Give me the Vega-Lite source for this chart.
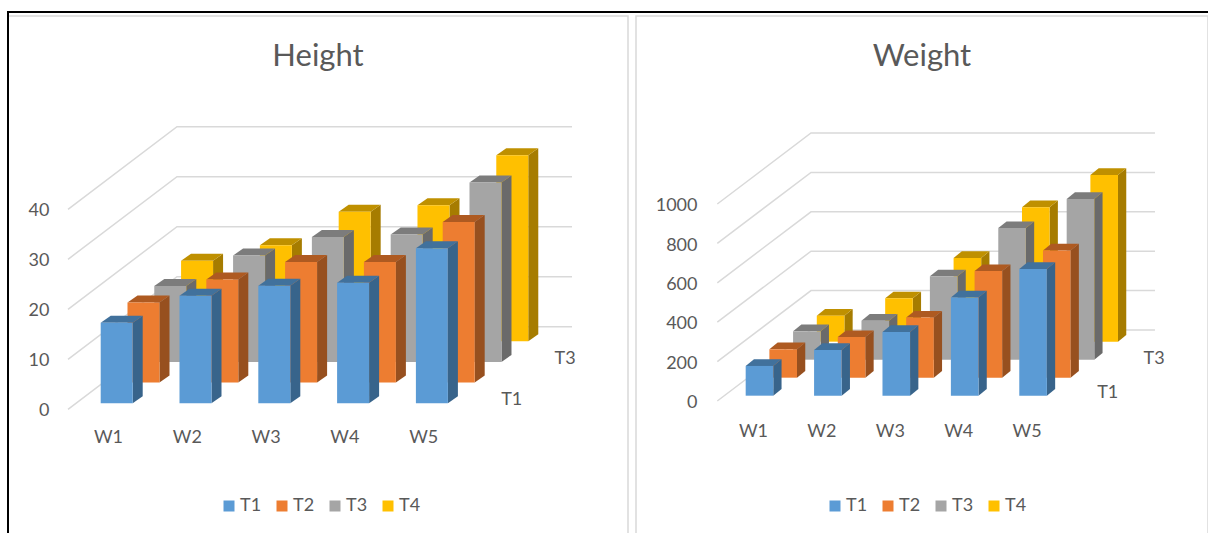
{"$schema":"https://vega.github.io/schema/vega-lite/v6.json","padding":{"left":5,"top":10,"right":0,"bottom":0},"spacing":8,"bounds":"flush","config":{"view":{"stroke":"#d9d9d9","strokeWidth":1.5},"font":"Lato","axis":{"grid":false,"domain":false,"ticks":false,"labelColor":"#595959","labelFontSize":18,"labelFont":"Lato","title":null,"labelPadding":0},"legend":{"labelColor":"#595959","labelFontSize":18,"labelFont":"Lato","symbolType":"square","symbolSize":121,"symbolStrokeWidth":0,"labelOffset":2,"columnPadding":11,"title":null},"title":{"font":"Lato","fontSize":31,"color":"#595959","fontWeight":"normal"}},
"hconcat":[
{"width":620,"height":519,"title":{"text":"Height","offset":-62,"anchor":"middle"},
"layer":[
{"data":{"values":[{"v":0},{"v":10},{"v":20},{"v":30},{"v":40}]},
"transform":[{"calculate":"[{x:-0.5076,y:datum.v-1.2},{x:0.8756,y:datum.v+15.32},{x:5.888,y:datum.v+15.32}]","as":"p"},{"flatten":["p"]},{"calculate":"datum.p.x","as":"gx"},{"calculate":"datum.p.y","as":"gy"}],
"mark":{"type":"line","color":"#d9d9d9","strokeWidth":1.5},
"encoding":{"x":{"field":"gx","type":"quantitative","scale":{"domain":[-1.269,6.599],"nice":false,"zero":false},"axis":{"values":[0,1,2,3,4],"labelExpr":"'W'+(datum.value+1)","labelBaseline":"middle","offset":-98}},
"y":{"field":"gy","type":"quantitative","scale":{"domain":[-26.34,77.46],"nice":false,"zero":false},"axis":{"values":[0,10,20,30,40],"offset":-41,"labelOffset":7}},
"detail":{"field":"v"}}},
{"data":{"values":[
{"week":"W1","series":"T4","value":16.1},{"week":"W2","series":"T4","value":19.2},{"week":"W3","series":"T4","value":25.9},{"week":"W4","series":"T4","value":27.2},{"week":"W5","series":"T4","value":37.2},
{"week":"W1","series":"T3","value":15.2},{"week":"W2","series":"T3","value":21.3},{"week":"W3","series":"T3","value":25},{"week":"W4","series":"T3","value":25.5},{"week":"W5","series":"T3","value":35.9},
{"week":"W1","series":"T2","value":16},{"week":"W2","series":"T2","value":20.6},{"week":"W3","series":"T2","value":24.1},{"week":"W4","series":"T2","value":24.1},{"week":"W5","series":"T2","value":32.1},
{"week":"W1","series":"T1","value":16.1},{"week":"W2","series":"T1","value":21.5},{"week":"W3","series":"T1","value":23.5},{"week":"W4","series":"T1","value":24.1},{"week":"W5","series":"T1","value":31}]},
"transform":[
{"calculate":"indexof(['W1','W2','W3','W4','W5'],datum.week)","as":"w"},
{"calculate":"indexof(['T1','T2','T3','T4'],datum.series)","as":"s"},
{"calculate":"-0.0926+datum.w+datum.s*0.34","as":"xl"},
{"calculate":"datum.xl+0.406","as":"xr"},
{"calculate":"datum.s*4.14","as":"lo"},
{"calculate":"datum.lo+datum.value","as":"hi"},
{"calculate":"[{f:'side',x:datum.xr,a:datum.lo,b:datum.hi},{f:'side',x:datum.xr+0.127,a:datum.lo+1.4,b:datum.hi+1.4},{f:'top',x:datum.xl,a:datum.hi,b:datum.hi},{f:'top',x:datum.xl+0.127,a:datum.hi,b:datum.hi+1.4},{f:'top',x:datum.xr,a:datum.hi,b:datum.hi+1.4},{f:'top',x:datum.xr+0.127,a:datum.hi+1.4,b:datum.hi+1.4},{f:'front',x:datum.xl,a:datum.lo,b:datum.hi},{f:'front',x:datum.xr,a:datum.lo,b:datum.hi}]","as":"p"},
{"flatten":["p"]},
{"calculate":"datum.p.x","as":"px"},{"calculate":"datum.p.a","as":"pa"},{"calculate":"datum.p.b","as":"pb"},
{"calculate":"datum.series+' '+datum.week+' '+datum.p.f","as":"face"},
{"calculate":"datum.p.f=='front'?datum.series:datum.series+' '+datum.p.f","as":"tone"}],
"mark":{"type":"area","interpolate":"linear"},
"encoding":{"x":{"field":"px","type":"quantitative","scale":{"domain":[-1.269,6.599],"nice":false,"zero":false},"axis":{"values":[0,1,2,3,4],"labelExpr":"'W'+(datum.value+1)","labelBaseline":"middle","offset":-98}},
"y":{"field":"pa","type":"quantitative","stack":null,"scale":{"domain":[-26.34,77.46],"nice":false,"zero":false},"axis":{"values":[0,10,20,30,40],"offset":-41,"labelOffset":7}},
"y2":{"field":"pb"},
"detail":{"field":"face"},
"color":{"field":"tone","type":"nominal","scale":{"domain":["T1","T2","T3","T4","T1 side","T2 side","T3 side","T4 side","T1 top","T2 top","T3 top","T4 top"],"range":["#5B9BD5","#ED7D31","#A5A5A5","#FFC000","#38648B","#97501F","#6A6A6A","#A67C00","#41719C","#AE5A21","#7C7C7C","#BF9000"]},"legend":{"values":["T1","T2","T3","T4"],"orient":"none","legendX":212,"legendY":481,"direction":"horizontal","columns":4}}}},
{"data":{"values":[{"series":"T1","s":0},{"series":"T3","s":2}]},
"transform":[{"calculate":"5.123+datum.s*0.3385","as":"lx"},{"calculate":"0.66+datum.s*4.1","as":"ly"}],
"mark":{"type":"text","font":"Lato","fontSize":18,"color":"#595959","align":"center","baseline":"middle"},
"encoding":{"x":{"field":"lx","type":"quantitative","scale":{"domain":[-1.269,6.599],"nice":false,"zero":false},"axis":{"values":[0,1,2,3,4],"labelExpr":"'W'+(datum.value+1)","labelBaseline":"middle","offset":-98}},"y":{"field":"ly","type":"quantitative","scale":{"domain":[-26.34,77.46],"nice":false,"zero":false},"axis":{"values":[0,10,20,30,40],"offset":-41,"labelOffset":7}},"text":{"field":"series"}}},
{"data":{"values":[{"edge":"top"}]},"mark":{"type":"rule","color":"#000000","strokeWidth":2},
"encoding":{"x":{"datum":-1.2817,"type":"quantitative","scale":{"domain":[-1.269,6.599],"nice":false,"zero":false},"axis":{"values":[0,1,2,3,4],"labelExpr":"'W'+(datum.value+1)","labelBaseline":"middle","offset":-98}},"x2":{"datum":13.96},"y":{"datum":78.26,"type":"quantitative","scale":{"domain":[-26.34,77.46],"nice":false,"zero":false},"axis":{"values":[0,10,20,30,40],"offset":-41,"labelOffset":7}}}},
{"data":{"values":[{"edge":"left"}]},"mark":{"type":"rule","color":"#000000","strokeWidth":2},
"encoding":{"x":{"datum":-1.269,"type":"quantitative","scale":{"domain":[-1.269,6.599],"nice":false,"zero":false},"axis":{"values":[0,1,2,3,4],"labelExpr":"'W'+(datum.value+1)","labelBaseline":"middle","offset":-98}},"y":{"datum":78.26,"type":"quantitative","scale":{"domain":[-26.34,77.46],"nice":false,"zero":false},"axis":{"values":[0,10,20,30,40],"offset":-41,"labelOffset":7}},"y2":{"datum":-26.34}}}
]},
{"width":572,"height":519,"title":{"text":"Weight","offset":-57,"anchor":"middle"},
"layer":[
{"data":{"values":[{"v":0},{"v":200},{"v":400},{"v":600},{"v":800},{"v":1000}]},
"transform":[{"calculate":"[{x:-0.522,y:datum.v-26.9},{x:0.848,y:datum.v+333.5},{x:5.877,y:datum.v+333.5}]","as":"p"},{"flatten":["p"]},{"calculate":"datum.p.x","as":"gx"},{"calculate":"datum.p.y","as":"gy"}],
"mark":{"type":"line","color":"#d9d9d9","strokeWidth":1.5},
"encoding":{"x":{"field":"gx","type":"quantitative","scale":{"domain":[-1.7105,6.652],"nice":false,"zero":false},"axis":{"values":[0,1,2,3,4],"labelExpr":"'W'+(datum.value+1)","labelBaseline":"middle","offset":-104}},
"y":{"field":"gy","type":"quantitative","scale":{"domain":[-707.2,1927.4],"nice":false,"zero":false},"axis":{"values":[0,200,400,600,800,1000],"format":"d","offset":-61,"labelOffset":7}},
"detail":{"field":"v"}}},
{"data":{"values":[
{"week":"W1","series":"T4","value":132},{"week":"W2","series":"T4","value":220},{"week":"W3","series":"T4","value":425},{"week":"W4","series":"T4","value":682},{"week":"W5","series":"T4","value":846},
{"week":"W1","series":"T3","value":144},{"week":"W2","series":"T3","value":198},{"week":"W3","series":"T3","value":423},{"week":"W4","series":"T3","value":668},{"week":"W5","series":"T3","value":816},
{"week":"W1","series":"T2","value":144},{"week":"W2","series":"T2","value":206},{"week":"W3","series":"T2","value":305},{"week":"W4","series":"T2","value":541},{"week":"W5","series":"T2","value":646},
{"week":"W1","series":"T1","value":151},{"week":"W2","series":"T1","value":232},{"week":"W3","series":"T1","value":323},{"week":"W4","series":"T1","value":499},{"week":"W5","series":"T1","value":643}]},
"transform":[
{"calculate":"indexof(['W1','W2','W3','W4','W5'],datum.week)","as":"w"},
{"calculate":"indexof(['T1','T2','T3','T4'],datum.series)","as":"s"},
{"calculate":"-0.107+datum.w+datum.s*0.3465","as":"xl"},
{"calculate":"datum.xl+0.4035","as":"xr"},
{"calculate":"datum.s*91.4","as":"lo"},
{"calculate":"datum.lo+datum.value","as":"hi"},
{"calculate":"[{f:'side',x:datum.xr,a:datum.lo,b:datum.hi},{f:'side',x:datum.xr+0.121,a:datum.lo+34,b:datum.hi+34},{f:'top',x:datum.xl,a:datum.hi,b:datum.hi},{f:'top',x:datum.xl+0.121,a:datum.hi,b:datum.hi+34},{f:'top',x:datum.xr,a:datum.hi,b:datum.hi+34},{f:'top',x:datum.xr+0.121,a:datum.hi+34,b:datum.hi+34},{f:'front',x:datum.xl,a:datum.lo,b:datum.hi},{f:'front',x:datum.xr,a:datum.lo,b:datum.hi}]","as":"p"},
{"flatten":["p"]},
{"calculate":"datum.p.x","as":"px"},{"calculate":"datum.p.a","as":"pa"},{"calculate":"datum.p.b","as":"pb"},
{"calculate":"datum.series+' '+datum.week+' '+datum.p.f","as":"face"},
{"calculate":"datum.p.f=='front'?datum.series:datum.series+' '+datum.p.f","as":"tone"}],
"mark":{"type":"area","interpolate":"linear"},
"encoding":{"x":{"field":"px","type":"quantitative","scale":{"domain":[-1.7105,6.652],"nice":false,"zero":false},"axis":{"values":[0,1,2,3,4],"labelExpr":"'W'+(datum.value+1)","labelBaseline":"middle","offset":-104}},
"y":{"field":"pa","type":"quantitative","stack":null,"scale":{"domain":[-707.2,1927.4],"nice":false,"zero":false},"axis":{"values":[0,200,400,600,800,1000],"format":"d","offset":-61,"labelOffset":7}},
"y2":{"field":"pb"},
"detail":{"field":"face"},
"color":{"field":"tone","type":"nominal","scale":{"domain":["T1","T2","T3","T4","T1 side","T2 side","T3 side","T4 side","T1 top","T2 top","T3 top","T4 top"],"range":["#5B9BD5","#ED7D31","#A5A5A5","#FFC000","#38648B","#97501F","#6A6A6A","#A67C00","#41719C","#AE5A21","#7C7C7C","#BF9000"]},"legend":{"values":["T1","T2","T3","T4"],"orient":"none","legendX":190,"legendY":481,"direction":"horizontal","columns":4}}}},
{"data":{"values":[{"series":"T1","s":0},{"series":"T3","s":2}]},
"transform":[{"calculate":"5.186+datum.s*0.3385","as":"lx"},{"calculate":"13.7+datum.s*86","as":"ly"}],
"mark":{"type":"text","font":"Lato","fontSize":18,"color":"#595959","align":"center","baseline":"middle"},
"encoding":{"x":{"field":"lx","type":"quantitative","scale":{"domain":[-1.7105,6.652],"nice":false,"zero":false},"axis":{"values":[0,1,2,3,4],"labelExpr":"'W'+(datum.value+1)","labelBaseline":"middle","offset":-104}},"y":{"field":"ly","type":"quantitative","scale":{"domain":[-707.2,1927.4],"nice":false,"zero":false},"axis":{"values":[0,200,400,600,800,1000],"format":"d","offset":-61,"labelOffset":7}},"text":{"field":"series"}}}
]}
],"resolve":{"scale":{"color":"independent"},"legend":{"color":"independent"}}}
